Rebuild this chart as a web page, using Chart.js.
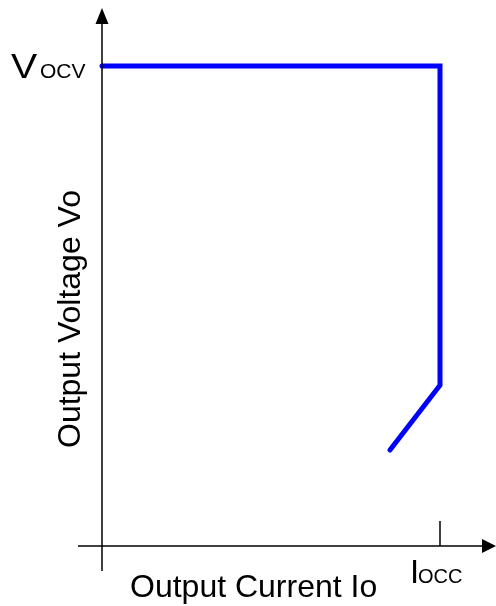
<!DOCTYPE html>
<html>
<head>
<meta charset="utf-8">
<script src="https://cdn.jsdelivr.net/npm/chart.js@4/dist/chart.umd.min.js"></script>
<style>
html,body{margin:0;padding:0;background:#fff;}
#wrap{width:496px;height:606px;position:relative;}
</style>
</head>
<body>
<div id="wrap"><canvas id="c"></canvas></div>
<script>
// Data (arbitrary units: I_OCC = 10, V_OCV = 10)
const currentValues = [0, 10, 10, 8.52];
const voltageValues = [10, 10, 3.35, 2.0];
const xTickValues = [10];
const xTickLabel = ["I", "OCC"];
const yTickLabel = ["V", "OCV"];
const xTitle = "Output Current Io";
const yTitle = "Output Voltage Vo";

const points = currentValues.map((x, i) => ({x: x, y: voltageValues[i]}));
const FONT = "'Liberation Sans', Arial, sans-serif";

const axesPlugin = {
  id: 'axesPlugin',
  afterDraw(chart) {
    const ctx = chart.ctx;
    const xs = chart.scales.x, ys = chart.scales.y;
    const ox = xs.getPixelForValue(0), oy = ys.getPixelForValue(0);
    const ca = chart.chartArea;
    ctx.save();
    ctx.strokeStyle = '#000';
    ctx.fillStyle = '#000';
    ctx.lineWidth = 1.5;
    // y axis
    ctx.beginPath();
    ctx.moveTo(ox, ca.bottom);
    ctx.lineTo(ox, ca.top + 12);
    ctx.stroke();
    ctx.beginPath();
    ctx.moveTo(ox, ca.top - 2);
    ctx.lineTo(ox - 6.5, ca.top + 14);
    ctx.lineTo(ox + 6.5, ca.top + 14);
    ctx.closePath();
    ctx.fill();
    // x axis
    ctx.beginPath();
    ctx.moveTo(ca.left, oy);
    ctx.lineTo(ca.right - 10, oy);
    ctx.stroke();
    ctx.beginPath();
    ctx.moveTo(ca.right, oy);
    ctx.lineTo(ca.right - 14, oy - 7);
    ctx.lineTo(ca.right - 14, oy + 7);
    ctx.closePath();
    ctx.fill();
    // tick at I_OCC
    xTickValues.forEach(v => {
      const px = xs.getPixelForValue(v);
      ctx.beginPath();
      ctx.moveTo(px, oy - 25);
      ctx.lineTo(px, oy);
      ctx.stroke();
      ctx.textBaseline = 'alphabetic';
      ctx.textAlign = 'left';
      ctx.font = '33px ' + FONT;
      ctx.fillText(xTickLabel[0], px - 30, oy + 37);
      ctx.font = '20px ' + FONT;
      ctx.fillText(xTickLabel[1], px - 22, oy + 37);
    });
    // V_OCV label
    const vy = ys.getPixelForValue(10);
    ctx.save();
    ctx.translate(11, vy + 12);
    ctx.scale(1.12, 1);
    ctx.font = '35px ' + FONT;
    ctx.textAlign = 'left';
    ctx.fillText(yTickLabel[0], 0, 0);
    ctx.restore();
    ctx.font = '21px ' + FONT;
    ctx.fillText(yTickLabel[1], 40, vy + 12);
    // x title
    ctx.font = '32px ' + FONT;
    ctx.textAlign = 'left';
    ctx.fillText(xTitle, 130, oy + 51);
    // y title
    ctx.save();
    ctx.translate(80, 448);
    ctx.rotate(-Math.PI / 2);
    ctx.textAlign = 'left';
    ctx.fillText(yTitle, 0, 0);
    ctx.restore();
    ctx.restore();
  }
};

new Chart(document.getElementById('c'), {
  type: 'line',
  data: {
    datasets: [{
      data: points,
      borderColor: '#0000FF',
      borderWidth: 5,
      borderCapStyle: 'round',
      borderJoinStyle: 'miter',
      pointRadius: 0,
      tension: 0,
      fill: false,
      clip: false
    }]
  },
  options: {
    responsive: true,
    maintainAspectRatio: false,
    animation: false,
    layout: {padding: {left: 78, right: 0, top: 10, bottom: 35}},
    plugins: {legend: {display: false}, tooltip: {enabled: false}},
    scales: {
      x: {type: 'linear', display: false, min: -0.710, max: 11.657},
      y: {type: 'linear', display: false, min: -0.521, max: 11.167}
    }
  },
  plugins: [axesPlugin]
});
</script>
</body>
</html>
